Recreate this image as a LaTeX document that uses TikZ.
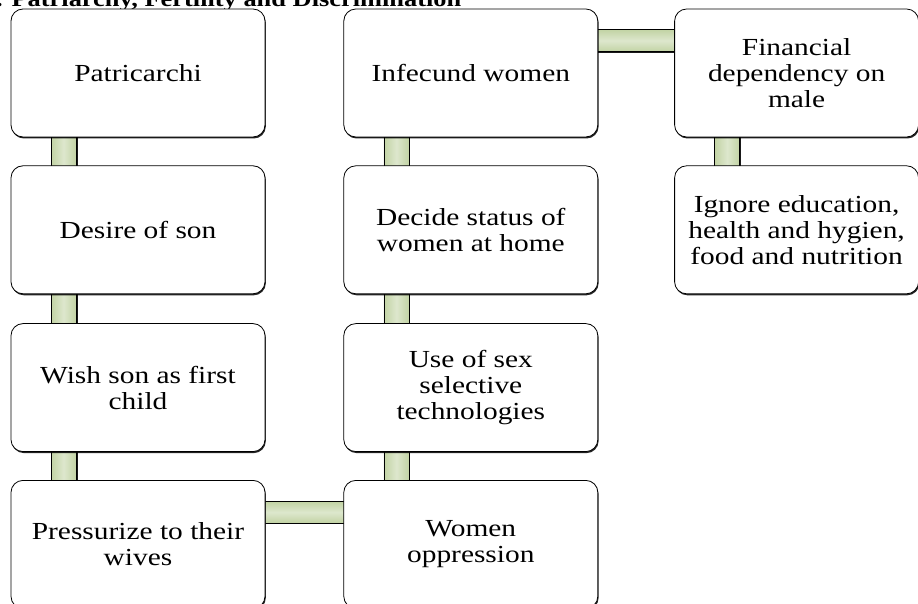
\documentclass[tikz,border=0pt]{standalone}
\usepackage{fontspec}
\setmainfont{Liberation Serif}[FakeStretch=1.2]
\usetikzlibrary{positioning,shadows,backgrounds}
\definecolor{baredge}{HTML}{C2D3A4}
\definecolor{barmid}{HTML}{DDE7CD}
\tikzset{
  stage/.style={draw=black, line width=0.8pt, fill=white, rounded corners=12pt,
    minimum width=254pt, minimum height=128pt, align=center, inner sep=2pt,
    font=\fontsize{24.5}{26}\selectfont,
    drop shadow={shadow xshift=0.8pt, shadow yshift=-1.5pt, fill=black, opacity=0.85}},
  narrow/.style={minimum width=244pt},
  vbar/.style={draw=black, line width=0.7pt, left color=baredge, right color=baredge,
    middle color=barmid, drop shadow={shadow xshift=1.4pt, shadow yshift=-1.4pt, fill=black, opacity=0.9}},
  hbar/.style={draw=black, line width=0.7pt, top color=baredge, bottom color=baredge,
    middle color=barmid, drop shadow={shadow xshift=1.4pt, shadow yshift=-1.4pt, fill=black, opacity=0.9}}
}
\begin{document}
\begin{tikzpicture}[x=1pt,y=1pt]
\useasboundingbox (0,0) rectangle (918,603);
\clip (0,0) rectangle (918,603);
\node[anchor=base west, inner sep=0pt, font=\bfseries\fontsize{22}{24}\selectfont] (title) at (-4,596) {. Patriarchy, Fertility and Discrimination};
% first column
\node[stage] (pat) at (138,530) {Patricarchi};
\node[stage, below=28pt of pat] (son) {Desire of son};
\node[stage, below=29pt of son] (wish) {Wish son as first\\child};
\node[stage, below=28pt of wish] (press) {Pressurize to their\\wives};
% second column
\node[stage, right=78pt of pat] (infe) {Infecund women};
\node[stage, below=28pt of infe] (stat) {Decide status of\\women at home};
\node[stage, below=29pt of stat] (tech) {Use of sex\\selective\\technologies};
\node[stage, below=28pt of tech] (opp) {Women\\oppression};
% third column
\node[stage, narrow, right=76pt of infe] (fin) {Financial\\dependency on\\male};
\node[stage, narrow, below=28pt of fin] (ign) {Ignore education,\\health and hygien,\\food and nutrition};
% links
\begin{scope}[on background layer]
\path[vbar] ([xshift=40.5pt,yshift=2pt]pat.south west) rectangle ([xshift=65.5pt,yshift=-2pt]son.north west);
\path[vbar] ([xshift=40.5pt,yshift=2pt]son.south west) rectangle ([xshift=65.5pt,yshift=-2pt]wish.north west);
\path[vbar] ([xshift=40.5pt,yshift=2pt]wish.south west) rectangle ([xshift=65.5pt,yshift=-2pt]press.north west);
\path[hbar] ([xshift=-2pt,yshift=-21.5pt]press.north east) rectangle ([xshift=2pt,yshift=-43pt]opp.north west);
\path[vbar] ([xshift=40.5pt,yshift=2pt]tech.south west) rectangle ([xshift=65.5pt,yshift=-2pt]opp.north west);
\path[vbar] ([xshift=40.5pt,yshift=2pt]stat.south west) rectangle ([xshift=65.5pt,yshift=-2pt]tech.north west);
\path[vbar] ([xshift=40.5pt,yshift=2pt]infe.south west) rectangle ([xshift=65.5pt,yshift=-2pt]stat.north west);
\path[hbar] ([xshift=-2pt,yshift=-21pt]infe.north east) rectangle ([xshift=2pt,yshift=-43pt]fin.north west);
\path[vbar] ([xshift=40.5pt,yshift=2pt]fin.south west) rectangle ([xshift=65.5pt,yshift=-2pt]ign.north west);
\end{scope}
\end{tikzpicture}
\end{document}
